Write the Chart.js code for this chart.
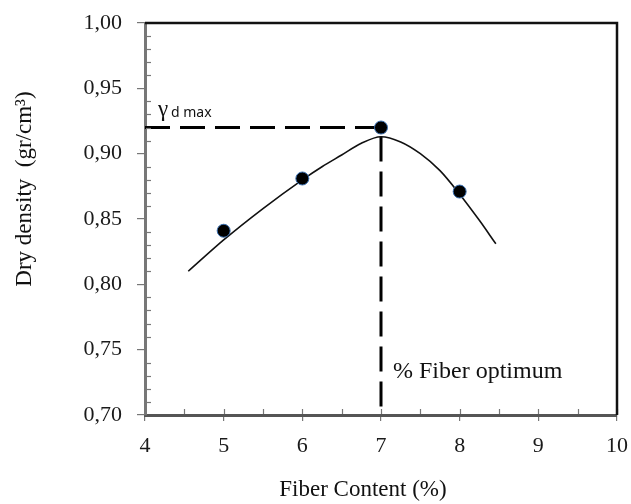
<!DOCTYPE html>
<html><head><meta charset="utf-8">
<script src="https://cdn.jsdelivr.net/npm/chart.js@4.4.1/dist/chart.umd.min.js"></script>
<style>html,body{margin:0;padding:0;background:#fff;}</style>
</head><body>
<canvas id="c" width="631" height="504"></canvas>
<script>
// Measured data
const fiberContent = [5, 6, 7, 8];
const dryDensity = [0.841, 0.881, 0.920, 0.871];
// Trend curve
const fitX = [4.55, 5.0, 5.5, 6.0, 6.25, 6.5, 6.75, 7.0, 7.25, 7.5, 7.75, 8.0, 8.25, 8.46];
const fitY = [0.810, 0.834, 0.858, 0.880, 0.890, 0.899, 0.908, 0.913, 0.909, 0.900, 0.887, 0.869, 0.849, 0.831];
// Optimum guide lines
const optimumX = [4, 7, 7];
const optimumY = [0.92, 0.92, 0.70];
// Tick labels
const xTicks = [4, 5, 6, 7, 8, 9, 10];
const yTicks = [0.70, 0.75, 0.80, 0.85, 0.90, 0.95, 1.00];
const xMinorTicks = [4.5, 5.5, 6.5, 7.5, 8.5, 9.5];
const yMinorStep = 0.01;

const xTitle = 'Fiber Content (%)';
const yTitle = 'Dry density  (gr/cm\u00B3)';
const gammaLabel = '\u03B3';
const gammaSub = 'd max';
const optimumLabel = '% Fiber optimum';

const serif = "'Liberation Serif', 'Times New Roman', serif";

const zip = (xs, ys) => xs.map((x, i) => ({x, y: ys[i]}));
const noPad = s => { s.paddingTop = 0; s.paddingBottom = 0; s.paddingLeft = 0; s.paddingRight = 0; };

const extras = {
  id: 'extras',
  afterDraw(chart) {
    const {ctx, chartArea: a, scales: {x, y}} = chart;
    ctx.save();
    ctx.strokeStyle = '#777';
    ctx.lineWidth = 1.2;
    const nMinor = Math.round((y.max - y.min) / yMinorStep);
    for (let i = 1; i < nMinor; i++) {
      if (i % 5 === 0) continue;
      const v = y.min + i * yMinorStep;
      const py = Math.round(y.getPixelForValue(v)) + 0.5;
      ctx.beginPath(); ctx.moveTo(a.left + 1, py); ctx.lineTo(a.left + 6, py); ctx.stroke();
    }
    xMinorTicks.concat(xTicks).forEach(v => {
      const px = Math.round(x.getPixelForValue(v)) + 0.5;
      ctx.beginPath(); ctx.moveTo(px, a.bottom - 1); ctx.lineTo(px, a.bottom - 6); ctx.stroke();
    });
    // top and right borders
    ctx.strokeStyle = '#111';
    ctx.lineWidth = 2.5;
    ctx.beginPath();
    ctx.moveTo(a.left, a.top); ctx.lineTo(a.right, a.top); ctx.lineTo(a.right, a.bottom);
    ctx.stroke();

    // annotations
    ctx.fillStyle = '#111';
    ctx.textBaseline = 'alphabetic';
    ctx.textAlign = 'left';
    ctx.font = '23px ' + serif;
    const gx = x.getPixelForValue(4) + 13;
    const gy = y.getPixelForValue(0.92) - 12;
    ctx.fillText(gammaLabel, gx, gy);
    ctx.font = "14px 'Noto Sans', 'Open Sans', sans-serif";
    ctx.fillText(gammaSub, gx + 13, gy + 1);

    ctx.font = '24px ' + serif;
    ctx.fillText(optimumLabel, x.getPixelForValue(7) + 12, y.getPixelForValue(0.70) - 37);

    // axis titles
    ctx.font = '23px ' + serif;
    ctx.textAlign = 'center';
    ctx.textBaseline = 'middle';
    ctx.fillText(xTitle, 363, 490);
    ctx.translate(25, 189);
    ctx.rotate(-Math.PI / 2);
    ctx.fillText(yTitle, 0, 0);
    ctx.restore();
  }
};

new Chart(document.getElementById('c'), {
  type: 'scatter',
  data: {
    datasets: [
      {
        label: 'Measured',
        data: zip(fiberContent, dryDensity),
        pointRadius: 6.5,
        pointHoverRadius: 6.5,
        backgroundColor: '#000',
        borderColor: '#3a6fb0',
        borderWidth: 1,
        order: 0
      },
      {
        label: 'Trend',
        data: zip(fitX, fitY),
        showLine: true,
        borderColor: '#111',
        borderWidth: 1.6,
        pointRadius: 0,
        cubicInterpolationMode: 'monotone',
        fill: false,
        order: 1
      },
      {
        label: 'Optimum',
        data: zip(optimumX, optimumY),
        showLine: true,
        borderColor: '#000',
        borderWidth: 3,
        borderDash: [25, 10],
        pointRadius: 0,
        tension: 0,
        fill: false,
        order: 2
      }
    ]
  },
  options: {
    responsive: false,
    animation: false,
    devicePixelRatio: 1,
    layout: {padding: {top: 23, right: 14, left: 0, bottom: 0}},
    plugins: {legend: {display: false}, tooltip: {enabled: false}},
    scales: {
      x: {
        type: 'linear', min: 4, max: 10,
        afterBuildTicks: s => { s.ticks = xTicks.map(v => ({value: v})); },
        afterFit: s => { s.height = 89; noPad(s); },
        ticks: {
          font: {family: serif, size: 22}, color: '#1a1a1a', padding: 12,
          maxRotation: 0, autoSkip: false, callback: v => String(v)
        },
        grid: {drawOnChartArea: false, drawTicks: true, tickLength: 6, color: '#777', lineWidth: 1.2},
        border: {display: true, color: '#555', width: 3}
      },
      y: {
        type: 'linear', min: 0.70, max: 1.00,
        afterBuildTicks: s => { s.ticks = yTicks.map(v => ({value: v})); },
        afterFit: s => { s.width = 145; noPad(s); },
        ticks: {
          font: {family: serif, size: 22}, color: '#1a1a1a', padding: 15,
          autoSkip: false, callback: v => Number(v).toFixed(2).replace('.', ',')
        },
        grid: {drawOnChartArea: false, drawTicks: true, tickLength: 8, color: '#777', lineWidth: 1.2},
        border: {display: true, color: '#777', width: 3}
      }
    }
  },
  plugins: [extras]
});
</script>
</body></html>
